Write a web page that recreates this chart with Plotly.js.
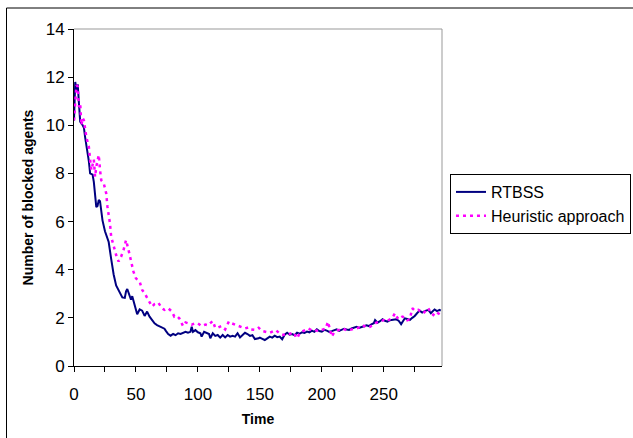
<!DOCTYPE html>
<html>
<head>
<meta charset="utf-8">
<script src="https://cdn.plot.ly/plotly-3.0.1.min.js"></script>
<style>
html,body{margin:0;padding:0;background:#fff;}
#chart{width:633px;height:438px;}
</style>
</head>
<body>
<div id="chart"></div>
<script>
const seriesNames = ["RTBSS", "Heuristic approach"];
const yTickValues = [0, 2, 4, 6, 8, 10, 12, 14];
const xTickValues = [0, 25, 50, 75, 100, 125, 150, 175, 200, 225, 250, 275];
const xTickLabels = ["0", "", "50", "", "100", "", "150", "", "200", "", "250", ""];

const rtbssTime = [0,1,2,3,4,5,7,8,9,11,12,13,15,16,17,18,19,20,21,22,23,25,27,28,30,32,34,36,37,39,41,42,43,44,46,47,49,51,53,55,57,59,61,63,65,67,69,71,73,74,76,78,80,82,84,86,88,90,92,94,95,96,98,100,102,103,105,107,109,110,112,114,116,118,120,122,124,126,128,130,132,134,136,138,140,142,144,146,149,150,152,154,156,158,160,162,164,166,168,170,172,174,176,178,180,182,184,186,188,190,192,194,196,198,200,202,204,206,208,210,212,214,216,218,220,222,224,226,228,230,232,234,236,238,240,242,243,245,247,249,251,253,255,257,260,262,264,266,267,269,271,273,275,277,279,281,283,286,288,290,291,293,295,296];
const rtbssValues = [10.2,11.8,11.45,11.7,10.9,10.15,10.0,9.9,9.5,8.9,8.5,8.0,7.95,7.65,7.15,6.6,6.65,6.9,6.85,6.5,6.05,5.6,5.3,5.15,4.45,3.8,3.35,3.15,3.1,2.85,2.83,3.1,3.2,3.05,2.75,2.9,2.5,2.15,2.35,2.3,2.08,2.26,2.05,1.9,1.77,1.7,1.66,1.59,1.55,1.47,1.33,1.26,1.33,1.28,1.36,1.33,1.38,1.42,1.38,1.42,1.63,1.42,1.49,1.40,1.36,1.22,1.42,1.38,1.33,1.15,1.36,1.25,1.29,1.18,1.29,1.19,1.29,1.22,1.25,1.22,1.36,1.19,1.30,1.38,1.33,1.25,1.28,1.12,1.15,1.18,1.13,1.08,1.15,1.22,1.18,1.26,1.2,1.22,1.11,1.3,1.38,1.3,1.33,1.28,1.38,1.34,1.40,1.37,1.43,1.4,1.47,1.42,1.52,1.45,1.43,1.5,1.47,1.42,1.45,1.5,1.52,1.46,1.50,1.55,1.52,1.5,1.56,1.6,1.63,1.58,1.60,1.65,1.69,1.66,1.73,1.78,1.91,1.8,1.86,1.94,1.88,1.84,1.9,1.91,1.94,1.88,1.74,1.9,1.98,1.95,1.91,2.0,2.08,2.2,2.30,2.22,2.28,2.33,2.19,2.3,2.35,2.28,2.33,2.3];

const heuristicTime = [0,1,2,3,4,5,6,7,8,10,12,13,14,16,17,18,20,21,22,24,26,27,29,30,32,34,36,38,40,42,44,46,48,50,53,55,57,60,63,65,68,71,73,76,79,81,83,85,88,90,92,95,98,100,103,106,108,112,114,116,119,122,125,127,130,133,135,138,141,143,146,149,152,155,158,161,163,166,169,172,174,177,180,182,184,187,189,192,194,197,200,203,205,208,210,212,215,217,220,223,226,228,231,233,236,239,241,244,247,250,252,255,257,259,261,263,265,267,269,271,273,275,278,280,282,284,286,288,290,292,294,296];
const heuristicValues = [10.2,11.2,11.67,11.6,10.76,10.9,10.0,10.3,10.2,9.5,9.1,8.57,8.14,8.57,7.86,8.28,8.77,8.14,7.72,7.59,7.17,6.62,5.93,5.37,4.96,4.61,4.34,4.54,4.82,5.23,4.82,4.40,3.92,3.64,3.5,3.16,3.02,2.74,2.47,2.57,2.63,2.40,2.33,2.40,2.26,2.05,2.08,1.98,1.66,1.81,1.78,1.72,1.78,1.77,1.66,1.72,1.69,1.87,1.59,1.59,1.66,1.52,1.85,1.78,1.72,1.66,1.59,1.56,1.61,1.52,1.50,1.59,1.45,1.43,1.38,1.45,1.49,1.35,1.29,1.35,1.33,1.4,1.15,1.35,1.43,1.5,1.56,1.48,1.50,1.45,1.5,1.55,1.84,1.22,1.4,1.47,1.52,1.56,1.48,1.50,1.52,1.56,1.62,1.70,1.6,1.63,1.7,1.80,1.85,1.91,1.85,1.94,2.0,2.19,2.0,1.94,2.05,2.02,1.9,1.94,2.40,2.3,2.33,2.25,2.19,2.3,2.40,2.2,2.12,2.25,2.19,2.12];

const traces = [
  {x: rtbssTime, y: rtbssValues, name: seriesNames[0], type: "scatter", mode: "lines",
   line: {color: "#000080", width: 2}},
  {x: heuristicTime, y: heuristicValues, name: seriesNames[1], type: "scatter", mode: "lines",
   line: {color: "#FF00FF", width: 2.5, dash: "3px,4px"}}
];

const font = "Arial, 'Liberation Sans', sans-serif";
const layout = {
  width: 633, height: 438,
  margin: {l: 74, r: 191, t: 29, b: 72, pad: 0, autoexpand: false},
  paper_bgcolor: "#ffffff", plot_bgcolor: "#ffffff",
  font: {family: font, color: "#000", size: 17},
  showlegend: true,
  legend: {x: 1.0217, y: 0.5697, xanchor: "left", yanchor: "top",
    bordercolor: "#000", borderwidth: 1, bgcolor: "#fff",
    font: {family: font, size: 16, color: "#000"}, tracegroupgap: 0},
  xaxis: {range: [0, 297], tickmode: "array", tickvals: xTickValues, ticktext: xTickLabels,
    ticks: "outside", ticklen: 5, tickcolor: "#000", tickwidth: 1,
    showline: true, linecolor: "#000", linewidth: 1, showgrid: false, zeroline: false,
    ticklabelstandoff: 8,
    tickfont: {family: font, size: 17, color: "#000"},
    title: {text: "<b>Time</b>", font: {family: font, size: 14, color: "#000"}, standoff: 10}},
  yaxis: {range: [0, 14], tickmode: "array", tickvals: yTickValues,
    ticks: "outside", ticklen: 5, tickcolor: "#000", tickwidth: 1,
    showline: true, linecolor: "#000", linewidth: 1, showgrid: false, zeroline: false,
    tickfont: {family: font, size: 17, color: "#000"},
    title: {text: "<b>Number of blocked agents</b>", font: {family: font, size: 14, color: "#000"}, standoff: 8}},
  shapes: [
    {type: "line", xref: "paper", yref: "paper", x0: 0, x1: 1, y0: 1, y1: 1, line: {color: "#999999", width: 1}},
    {type: "line", xref: "paper", yref: "paper", x0: 1, x1: 1, y0: 0, y1: 1, line: {color: "#999999", width: 1}},
    {type: "line", xref: "paper", yref: "paper", x0: -0.1834, x1: 1.52, y0: 1.0623, y1: 1.0623, line: {color: "#000", width: 1}},
    {type: "line", xref: "paper", yref: "paper", x0: -0.1834, x1: -0.1834, y0: 1.0623, y1: -0.23, line: {color: "#000", width: 1}}
  ]
};

Plotly.newPlot("chart", traces, layout, {staticPlot: true, displayModeBar: false});
</script>
</body>
</html>
